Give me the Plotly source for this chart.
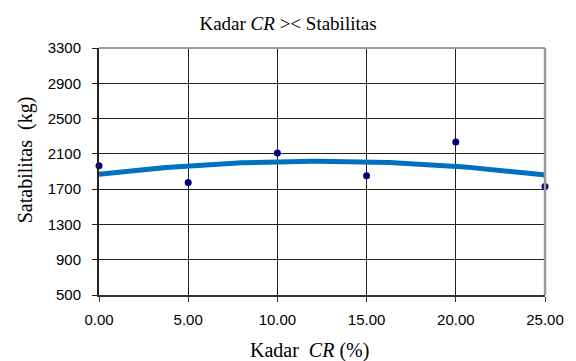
import numpy as np
import plotly.graph_objects as go

kadar_cr = [0, 5, 10, 15, 20, 25]
stabilitas = [1966, 1776, 2110, 1852, 2234, 1731]
x_ticks = [0, 5, 10, 15, 20, 25]
y_ticks = [500, 900, 1300, 1700, 2100, 2500, 2900, 3300]

# polynomial (order 2) trendline computed from the data, like the spreadsheet trendline
coef = np.polyfit(kadar_cr, stabilitas, 2)
xt = np.linspace(0, 25, 101)
yt = np.polyval(coef, xt)

fig = go.Figure()
fig.add_trace(go.Scatter(x=xt, y=yt, mode="lines",
                         line=dict(color="#0070C0", width=5), hoverinfo="skip"))
fig.add_trace(go.Scatter(x=kadar_cr, y=stabilitas, mode="markers",
                         marker=dict(color="#000080", size=7), cliponaxis=False))

serif = "Liberation Serif, Times New Roman, serif"
sans = "Liberation Sans, Arial, sans-serif"

fig.update_layout(
    width=576, height=361,
    margin=dict(l=99, r=29, t=48, b=66),
    paper_bgcolor="white", plot_bgcolor="white",
    showlegend=False,
    title=dict(text="Kadar <i>CR</i> >< Stabilitas", x=0.5, xanchor="center",
               y=0.935, yanchor="middle", font=dict(family=serif, size=19, color="black")),
    xaxis=dict(range=[0, 25], tickvals=x_ticks, tickformat=".2f",
               showgrid=True, gridcolor="#202020", gridwidth=1,
               showline=True, linecolor="#333333", linewidth=1.5,
               ticks="outside", ticklen=5, tickcolor="#333333",
               ticklabelstandoff=5,
               tickfont=dict(family=sans, size=15, color="black"),
               zeroline=False),
    yaxis=dict(range=[500, 3300], tickvals=y_ticks,
               showgrid=True, gridcolor="#202020", gridwidth=1,
               showline=True, linecolor="#222222", linewidth=2,
               ticks="outside", ticklen=5, tickcolor="#222222",
               ticklabelstandoff=8,
               tickfont=dict(family=sans, size=15, color="black"),
               zeroline=False),
    annotations=[
        dict(text="Kadar  <i>CR</i> (%)", xref="paper", yref="paper", x=0.471, y=-0.223,
             xanchor="center", yanchor="middle", showarrow=False,
             font=dict(family=serif, size=20, color="black")),
        dict(text="Satabilitas  (kg)", xref="paper", yref="paper", x=-0.165, y=0.547,
             xanchor="center", yanchor="middle", showarrow=False, textangle=-90,
             font=dict(family=serif, size=20, color="black")),
    ],
)
fig.add_shape(type="line", xref="paper", yref="paper", x0=1, x1=1, y0=0, y1=1,
              line=dict(color="#9a9a9a", width=2.5))
fig.add_shape(type="line", xref="paper", yref="paper", x0=0, x1=1, y0=1, y1=1,
              line=dict(color="#9a9a9a", width=2))

fig.write_html("out.html")
